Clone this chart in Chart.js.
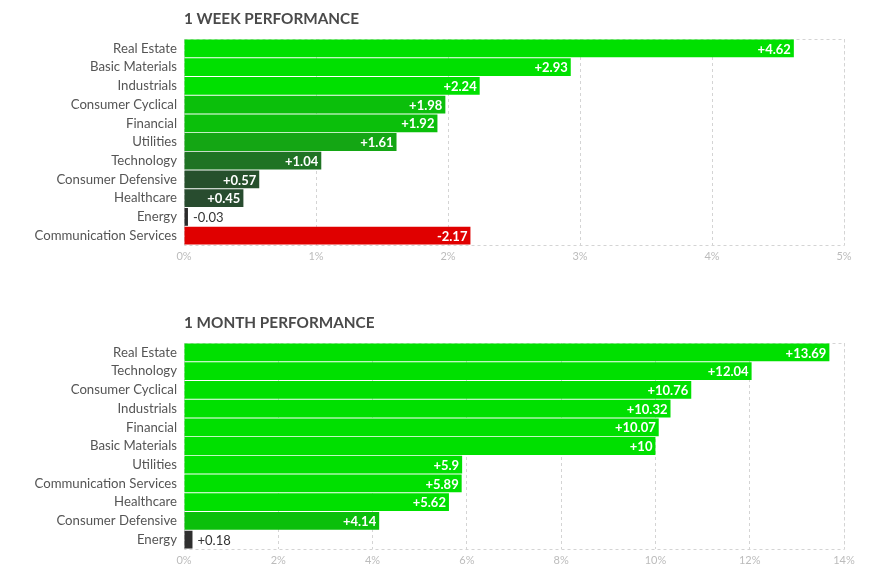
<!DOCTYPE html>
<html>
<head>
<meta charset="utf-8">
<script src="https://cdn.jsdelivr.net/npm/chart.js@4"></script>
<style>
  body { margin: 0; background: #fff; font-family: Lato, sans-serif; }
  .wrap { position: absolute; left: 0; width: 883px; height: 274px; }
  .title { position: absolute; left: 184px; top: 9px; font: 700 15.3px Lato, sans-serif; color: #4a4a4a; }
</style>
</head>
<body>
<div class="wrap" style="top:0">
  <canvas id="weekChart" width="883" height="274"></canvas>
  <div class="title">1 WEEK PERFORMANCE</div>
</div>
<div class="wrap" style="top:304px">
  <canvas id="monthChart" width="883" height="274"></canvas>
  <div class="title">1 MONTH PERFORMANCE</div>
</div>
<script>
// 1 semana
const weekSectors = ["Real Estate", "Basic Materials", "Industrials", "Consumer Cyclical", "Financial",
  "Utilities", "Technology", "Consumer Defensive", "Healthcare", "Energy", "Communication Services"];
const weekValues = [4.62, 2.93, 2.24, 1.98, 1.92, 1.61, 1.04, 0.57, 0.45, -0.03, -2.17];
const weekColors = ["#00e000", "#00e000", "#00e000", "#0bbf0b", "#0bbf0b", "#14a614", "#1f7324",
  "#26502c", "#284c2f", "#2b2b2b", "#e00000"];
const weekTicks = ["0%", "1%", "2%", "3%", "4%", "5%"];

// 1 mes
const monthSectors = ["Real Estate", "Technology", "Consumer Cyclical", "Industrials", "Financial",
  "Basic Materials", "Utilities", "Communication Services", "Healthcare", "Consumer Defensive", "Energy"];
const monthValues = [13.69, 12.04, 10.76, 10.32, 10.07, 10, 5.9, 5.89, 5.62, 4.14, 0.18];
const monthColors = ["#00e000", "#00e000", "#00e000", "#00e000", "#00e000", "#00e000", "#00e000",
  "#00e000", "#00e000", "#0bbf0b", "#2f2f2f"];
const monthTicks = ["0%", "2%", "4%", "6%", "8%", "10%", "12%", "14%"];

// caixa tracejada em volta da area
const boxPlugin = {
  id: 'box',
  beforeDatasetsDraw(chart) {
    const a = chart.chartArea;
    const ctx = chart.ctx;
    ctx.save();
    ctx.strokeStyle = '#d4d4d4';
    ctx.lineWidth = 1;
    ctx.setLineDash([3, 3]);
    ctx.strokeRect(a.left + 0.5, a.top + 0.5, a.right - a.left, a.bottom - a.top);
    ctx.restore();
  }
};

// rotulos de valor nas barras
const valuePlugin = {
  id: 'values',
  afterDatasetsDraw(chart) {
    const ctx = chart.ctx;
    const vals = chart.options.plugins.values.raw;
    const meta = chart.getDatasetMeta(0);
    ctx.save();
    ctx.textBaseline = 'middle';
    meta.data.forEach((bar, i) => {
      const v = vals[i];
      const txt = (v > 0 ? '+' : '') + v;
      ctx.font = '700 13px Lato, sans-serif';
      const w = ctx.measureText(txt).width;
      const barW = bar.x - bar.base;
      if (barW > w + 8) {
        ctx.fillStyle = '#fff';
        ctx.textAlign = 'right';
        ctx.fillText(txt, bar.x - 3, bar.y + 1);
      } else {
        ctx.font = '400 13px Lato, sans-serif';
        ctx.fillStyle = '#333';
        ctx.textAlign = 'left';
        ctx.fillText(txt, bar.x + 5, bar.y + 1);
      }
    });
    ctx.restore();
  }
};

function makeChart(id, labels, values, colors, tickLabels, step) {
  const ctx = document.getElementById(id).getContext('2d');
  return new Chart(ctx, {
    type: 'bar',
    data: {
      labels: labels,
      datasets: [{
        data: values.map(v => Math.abs(v)),
        backgroundColor: colors,
        barPercentage: 0.95,
        categoryPercentage: 1
      }]
    },
    options: {
      indexAxis: 'y',
      responsive: false,
      animation: false,
      layout: { padding: { top: 39, right: 39, left: 0, bottom: 0 } },
      scales: {
        x: {
          min: 0,
          max: step * (tickLabels.length - 1),
          ticks: {
            stepSize: step,
            color: '#bcbcbc',
            font: { family: 'Lato', size: 11 },
            padding: 5,
            callback: (v, i) => tickLabels[i]
          },
          grid: { color: '#d4d4d4', drawTicks: false },
          border: { display: false, dash: [3, 3] },
          afterFit: s => { s.height = 29; }
        },
        y: {
          ticks: {
            autoSkip: false,
            color: '#555',
            font: { family: 'Lato', size: 13.2 },
            padding: 7
          },
          grid: { display: false, drawTicks: false },
          border: { display: false },
          afterFit: s => { s.width = 184; }
        }
      },
      plugins: {
        legend: { display: false },
        tooltip: { enabled: false },
        values: { raw: values }
      }
    },
    plugins: [boxPlugin, valuePlugin]
  });
}

window.onload = () => {
  makeChart('weekChart', weekSectors, weekValues, weekColors, weekTicks, 1);
  makeChart('monthChart', monthSectors, monthValues, monthColors, monthTicks, 2);
};
</script>
</body>
</html>
